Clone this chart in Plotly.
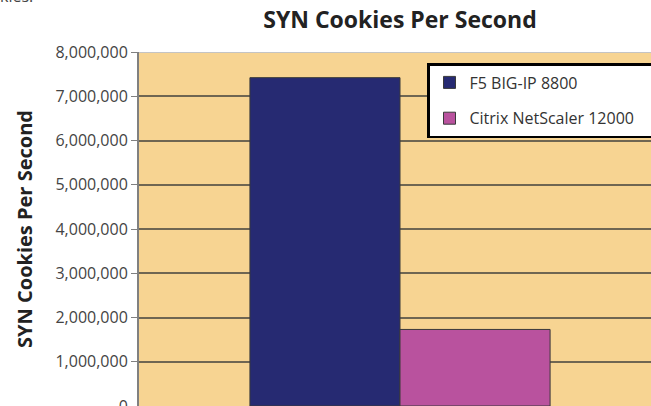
import plotly.graph_objects as go

categories = ["SYN Cookies"]
series_names = ["F5 BIG-IP 8800", "Citrix NetScaler 12000"]
series_values = [[7420000], [1730000]]
series_colors = ["#262A72", "#B9529E"]
tick_vals = [0, 1000000, 2000000, 3000000, 4000000, 5000000, 6000000, 7000000, 8000000]

fig = go.Figure()
for i, (name, vals, col) in enumerate(zip(series_names, series_values, series_colors)):
    fig.add_trace(go.Bar(
        x=categories, y=vals, name=name + "\u00a0" * 6, legendgroup=f"g{i}",
        marker=dict(color=col, line=dict(color="#3a3a3a", width=1)),
    ))

W, H = 651, 406
L, T = 139, 52
fig.update_layout(
    width=W, height=H,
    margin=dict(l=L, r=0, t=T, b=0, autoexpand=False),
    paper_bgcolor="white",
    plot_bgcolor="#F7D492",
    barmode="group",
    bargap=0.425,
    bargroupgap=0,
    font=dict(family="Open Sans", color="#333333"),
    title=dict(text="<b>SYN Cookies Per Second</b>", x=400 / W, xanchor="center",
               xref="container", y=1 - 20 / H, yanchor="middle", yref="container",
               font=dict(size=23, color="#222222")),
    showlegend=True,
    legend=dict(x=(427 - L) / (W - L), xanchor="left", y=1 - 11 / (H - T), yanchor="top",
                bgcolor="white", bordercolor="black", borderwidth=2.5,
                font=dict(size=16, color="#333333"), traceorder="grouped",
                tracegroupgap=12),
    xaxis=dict(range=[-0.5, 0.4808], showticklabels=False, showgrid=False,
               zeroline=False, showline=False, fixedrange=True, automargin=False),
    yaxis=dict(range=[0, 8000000], tickvals=tick_vals, tickformat=",",
               showgrid=True, gridcolor="#6f6652", gridwidth=2, automargin=False,
               zeroline=False, showline=True, linecolor="#808080", linewidth=2,
               ticks="outside", ticklen=6, tickcolor="#808080",
               ticklabeloverflow="allow",
               tickfont=dict(size=16, color="#444444"),
               title=dict(text="<b>SYN Cookies Per Second</b>", standoff=17,
                          font=dict(size=20, color="#222222"))),
)

# light top border of plot area
fig.add_shape(type="line", xref="paper", yref="y", x0=0, x1=1,
              y0=tick_vals[-1], y1=tick_vals[-1], line=dict(color="#c4c4c4", width=2))

fig.add_annotation(text="kies.", xref="paper", yref="paper",
                   x=(-2 - L) / (W - L), xanchor="left",
                   y=1 + (T - 9) / (H - T), yanchor="bottom",
                   showarrow=False, font=dict(size=16, color="#444444"))

fig.write_html("out.html", config={"displayModeBar": False},
               post_script="document.body.style.margin='0';document.body.style.overflow='hidden';")
